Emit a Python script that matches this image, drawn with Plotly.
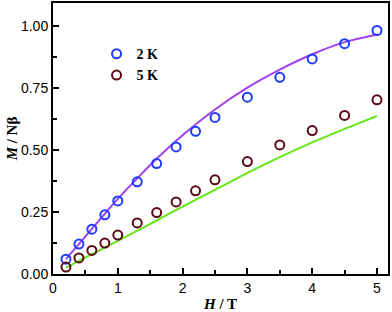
import plotly.graph_objects as go

# Measured data
h_2k = [0.2, 0.4, 0.6, 0.8, 1.0, 1.3, 1.6, 1.9, 2.2, 2.5, 3.0, 3.5, 4.0, 4.5, 5.0]
m_2k = [0.060, 0.121, 0.181, 0.239, 0.295, 0.372, 0.446, 0.513, 0.576, 0.632, 0.714, 0.794, 0.868, 0.930, 0.983]
h_5k = [0.2, 0.4, 0.6, 0.8, 1.0, 1.3, 1.6, 1.9, 2.2, 2.5, 3.0, 3.5, 4.0, 4.5, 5.0]
m_5k = [0.028, 0.065, 0.095, 0.125, 0.157, 0.206, 0.248, 0.291, 0.336, 0.380, 0.454, 0.521, 0.579, 0.640, 0.703]

# Fit curves
h_fit = [0.2, 0.6, 1.0, 1.3, 1.6, 2.0, 2.5, 3.0, 3.5, 4.0, 4.5, 5.0]
fit_2k = [0.060, 0.182, 0.303, 0.386, 0.465, 0.560, 0.664, 0.752, 0.825, 0.887, 0.936, 0.967]
fit_5k = [0.026, 0.080, 0.134, 0.175, 0.216, 0.272, 0.340, 0.408, 0.472, 0.531, 0.586, 0.638]

series_names = ["2 K", "5 K"]
x_ticks = [0, 1, 2, 3, 4, 5]
y_ticks = [0.0, 0.25, 0.5, 0.75, 1.0]
y_ticktext = ["0.00", "0.25", "0.50", "0.75", "1.00"]

fig = go.Figure()
fig.add_trace(go.Scatter(x=h_fit, y=fit_2k, mode="lines", line=dict(color="#a040f0", width=2, shape="spline", smoothing=0.8), showlegend=False))
fig.add_trace(go.Scatter(x=h_fit, y=fit_5k, mode="lines", line=dict(color="#66e617", width=2, shape="spline", smoothing=0.5), showlegend=False))
fig.add_trace(go.Scatter(x=h_2k, y=m_2k, mode="markers", name="<b>" + series_names[0] + "</b>",
                         marker=dict(symbol="circle-open", size=9, color="#1e3cff", line=dict(width=2, color="#1e3cff"))))
fig.add_trace(go.Scatter(x=h_5k, y=m_5k, mode="markers", name="<b>" + series_names[1] + "</b>",
                         marker=dict(symbol="circle-open", size=9, color="#5c0a14", line=dict(width=2, color="#5c0a14"))))

axis_common = dict(showline=True, linecolor="black", linewidth=2, mirror=True, showgrid=False, zeroline=False,
                   ticks="inside", ticklen=6, tickwidth=2, tickcolor="black",
                   tickfont=dict(family="Liberation Sans, Arial", size=14, color="black"))

fig.update_xaxes(range=[0, 5.17], tickvals=x_ticks,
                 minor=dict(dtick=0.5, tick0=0, ticks="inside", ticklen=4, tickwidth=2, tickcolor="black"),
                 title=dict(text="<b><i>H</i> / T</b>", font=dict(family="Liberation Serif, Times New Roman", size=15, color="black"), standoff=4),
                 **axis_common)
fig.update_yaxes(range=[0, 1.094], tickvals=y_ticks, ticktext=y_ticktext,
                 minor=dict(dtick=0.125, tick0=0, ticks="inside", ticklen=4, tickwidth=2, tickcolor="black"),
                 title=dict(text="<b><i>M</i> / Nβ</b>", font=dict(family="Liberation Serif, Times New Roman", size=15, color="black"), standoff=0),
                 **axis_common)

fig.update_layout(width=392, height=312, margin=dict(l=53, r=4, t=3, b=38, autoexpand=False),
                  paper_bgcolor="white", plot_bgcolor="white",
                  legend=dict(x=0.13, y=0.87, xanchor="left", yanchor="top", bgcolor="rgba(0,0,0,0)",
                              font=dict(family="Liberation Serif, Times New Roman", size=14, color="black"),
                              tracegroupgap=0, itemwidth=30))

fig.write_html("out.html", config={"displayModeBar": False},
               post_script="document.body.style.margin='0';document.body.style.padding='0';")
